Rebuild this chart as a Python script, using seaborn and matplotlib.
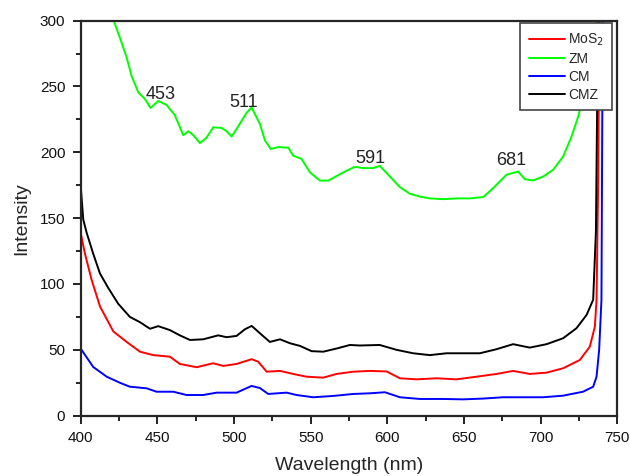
import pandas as pd
import numpy as np
import matplotlib
matplotlib.use('Agg')
import matplotlib.pyplot as plt
import seaborn as sns
from matplotlib.ticker import MultipleLocator

# Values (wavelength in nm, intensity)
zm_wl = [400, 410, 418, 421.7, 425.6, 430, 433.2, 437.6, 441.9, 445.6, 450.6, 456, 461.5, 466.9,
         470.2, 473.5, 477.8, 482, 486.5, 491.9, 495.2, 498.5, 501.7, 505, 508.2, 511.5, 516.9,
         520.2, 523.9, 528.9, 535.4, 538.6, 544, 549.5, 556, 561.5, 566.9, 573.4, 578.8, 584.2,
         590.7, 595.1, 600.5, 608.2, 614.7, 621.2, 627.7, 636.4, 645.1, 653.8, 662.5, 669, 677.7,
         685.3, 689.6, 695, 701.6, 708.1, 714.6, 720.1, 724.4, 728, 732, 735, 738]
zm_val = [420, 360, 320, 299.5, 287, 272, 258, 245.5, 240.5, 233.7, 239, 236, 228, 213,
          216, 213, 207, 211, 219, 218.5, 216, 212, 217.8, 224, 230, 234, 221.5,
          209, 202.5, 204, 203.5, 197.5, 195, 184.8, 178.5, 178.5, 182, 186, 189, 188,
          188, 189.7, 183, 173.5, 168.5, 166.4, 165, 164.4, 165, 165, 166, 172.8, 183,
          185.4, 179.6, 178.6, 181.6, 186.7, 196.8, 212, 227, 243, 265, 290, 320]

cmz_wl = [400, 401.7, 403.9, 408.2, 412.6, 418, 424.5, 432.1, 438.7, 445.2, 450.6, 458.2, 464.7,
          471.3, 479.9, 489.7, 495.2, 501.7, 507.1, 511.5, 516.9, 523.4, 530, 536.5, 543, 550.6,
          558.2, 566.9, 575.6, 582, 595, 606, 616.8, 627.7, 638.6, 649.4, 660.3, 671.2, 682,
          692.9, 703.8, 714.6, 723.3, 729.9, 734.2, 736, 737.5]
cmz_val = [175, 149, 139, 123, 108, 97, 85, 75, 71, 66, 68, 65, 61,
           57.5, 58, 61, 59.6, 60.6, 65.6, 68.2, 62.6, 56, 58, 55, 53, 49,
           48.6, 51, 53.7, 53.3, 53.7, 50, 47.4, 46, 47.4, 47.4, 47.4, 50.5, 54.3,
           51.7, 54.3, 58.8, 66.4, 76.5, 88, 140, 320]

mos2_wl = [400, 402.8, 407.2, 412.6, 421.3, 430, 438.7, 447.3, 458.2, 464.7, 475.6, 486.4, 493,
           501.7, 511.5, 515.8, 521.3, 530, 538.6, 547.3, 558.2, 566.9, 577.7, 588.6, 599.5,
           608.2, 619, 632.1, 645.1, 658.1, 671.2, 682, 692.9, 703.8, 714.6, 725.5, 732, 735.3,
           736.4, 737.5, 738.3]
mos2_val = [139, 123, 103, 83, 64, 56, 48.6, 46, 44.8, 39.3, 36.8, 39.8, 37.8,
            39.3, 42.9, 41, 33.4, 34, 31.7, 29.6, 28.9, 31.7, 33.4, 34, 33.6,
            28.4, 27.6, 28.4, 27.6, 29.6, 31.7, 34, 31.7, 32.7, 36, 42.3, 52.4, 67.6,
            88, 180, 320]

cm_wl = [400, 408.2, 417, 425.6, 432.1, 443, 449.5, 460.4, 469.1, 479.9, 488.7, 501.7, 511.5,
         516.9, 522.3, 534.3, 540.8, 551.6, 564.7, 577.7, 588.6, 598.4, 608.2, 621.2, 636.4,
         649.4, 662.5, 675.5, 688.5, 701.6, 714.6, 727.6, 734.2, 736.4, 738.1, 739.6, 740.5]
cm_val = [51, 37, 29.6, 25, 22, 20.8, 18.2, 18.2, 15.7, 15.7, 17.5, 17.5, 22.6,
          21, 16.5, 17.5, 15.7, 14, 15, 16.5, 17, 17.8, 14, 12.7, 12.7,
          12.4, 13, 14, 14, 14, 15.2, 18.2, 22, 29.6, 50, 88, 320]

labels = ['MoS$_2$', 'ZM', 'CM', 'CMZ']
colors = ['#ff0000', '#00ff00', '#0000ff', '#000000']

peak_labels = ['453', '511', '591', '681']
peak_x = [452.3, 506.6, 588.6, 681]
peak_y = [243.7, 238, 195, 193.5]

# Build a long table for seaborn
frames = []
for name, wl, val in zip(labels, [mos2_wl, zm_wl, cm_wl, cmz_wl],
                         [mos2_val, zm_val, cm_val, cmz_val]):
    frames.append(pd.DataFrame({'wavelength': wl, 'intensity': val, 'sample': name}))
data = pd.concat(frames, ignore_index=True)

sns.set_style('ticks')
plt.rcParams['font.family'] = ['Liberation Sans', 'DejaVu Sans']

fig = plt.figure(figsize=(6.3, 4.76), dpi=100)
ax = fig.add_axes([0.128, 0.1267, 0.852, 0.83])

sns.lineplot(data=data, x='wavelength', y='intensity', hue='sample', hue_order=labels,
             palette=colors, estimator=None, sort=False, linewidth=1.4, ax=ax)

for txt, px, py in zip(peak_labels, peak_x, peak_y):
    ax.text(px, py, txt, ha='center', va='center', fontsize=13, color='#222222')

ax.set_xlim(400, 750)
ax.set_ylim(0, 300)
ax.xaxis.set_major_locator(MultipleLocator(50))
ax.xaxis.set_minor_locator(MultipleLocator(25))
ax.yaxis.set_major_locator(MultipleLocator(50))
ax.yaxis.set_minor_locator(MultipleLocator(25))
ax.tick_params(which='both', direction='out', width=1.3, labelsize=11, colors='#111111')
ax.tick_params(which='major', length=6, pad=5)
ax.tick_params(which='minor', length=3.5)
for sp in ax.spines.values():
    sp.set_linewidth(1.6)
    sp.set_visible(True)

ax.set_xlabel('Wavelength (nm)', fontsize=14, labelpad=9)
ax.set_ylabel('Intensity', fontsize=14, labelpad=7)

handles, _ = ax.get_legend_handles_labels()
leg = ax.legend(handles, labels, loc='upper right', bbox_to_anchor=(0.9907, 0.9934),
                borderaxespad=0, fontsize=10, handlelength=2.6, handletextpad=0.25,
                labelspacing=0.28, borderpad=0.6, fancybox=False, framealpha=1,
                edgecolor='#444444')
leg.get_frame().set_linewidth(1.2)

fig.savefig('out.png', dpi=100)
